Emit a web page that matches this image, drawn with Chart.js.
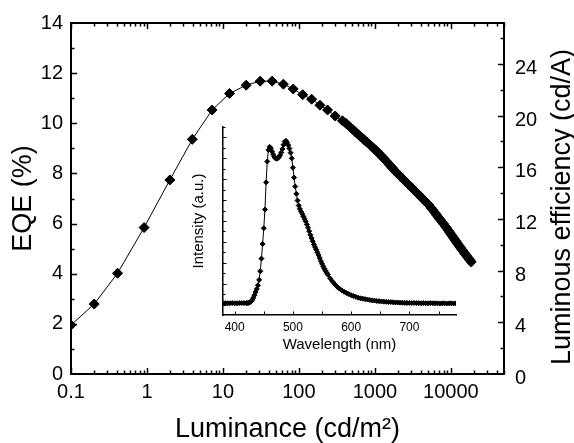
<!DOCTYPE html>
<html><head><meta charset="utf-8">
<script src="https://cdn.jsdelivr.net/npm/chart.js@4.4.1/dist/chart.umd.min.js"></script>
<style>
html,body{margin:0;padding:0;background:#fff;}
#wrap{position:relative;width:574px;height:443px;}
canvas{position:absolute;left:0;top:0;}
</style></head><body>
<div id="wrap"><canvas id="main" width="574" height="443"></canvas><canvas id="inset" width="574" height="443"></canvas></div>
<script>
// ---- main plot data: EQE (%) vs luminance (cd/m2) ----
const luminance = [0.1, 0.202, 0.41, 0.916, 2.0, 3.95, 7.2, 12.2, 20.2, 30.9, 44.4, 62.4, 84, 112, 147, 189, 238, 300, 374,
  415, 460, 505, 550, 595, 640, 690, 740, 795, 850, 910, 970, 1035, 1100, 1170, 1240, 1315, 1390, 1470, 1550, 1635,
  1720, 1810, 1900, 1995, 2090, 2290, 2500, 2720, 2950, 3190, 3440, 3700,
  3970, 4250, 4540, 4840, 5150, 5470, 5800, 6140, 6490, 6850, 7220, 7600, 7990, 8390, 8800, 9220, 9650, 10090,
  10540, 11000, 11470, 11950, 12440, 12940, 13450, 13970, 14500, 15040, 15590, 16150, 16720, 17300, 17890, 18500];
const eqe = [1.95, 2.79, 4.02, 5.84, 7.74, 9.36, 10.53, 11.19, 11.52, 11.68, 11.68, 11.56, 11.37, 11.14, 10.96, 10.72, 10.53, 10.29, 10.1,
  10.0, 9.88, 9.77, 9.66, 9.57, 9.48, 9.40, 9.31, 9.23, 9.15, 9.07, 8.99, 8.91, 8.84, 8.75, 8.67, 8.59, 8.51, 8.43, 8.35, 8.27,
  8.20, 8.12, 8.05, 7.99, 7.93, 7.81, 7.69, 7.58, 7.48, 7.37, 7.27, 7.18,
  7.08, 6.99, 6.90, 6.82, 6.74, 6.63, 6.54, 6.44, 6.34, 6.25, 6.16, 6.07, 5.99, 5.90, 5.82, 5.73, 5.65, 5.56,
  5.48, 5.40, 5.32, 5.25, 5.17, 5.10, 5.03, 4.96, 4.90, 4.83, 4.77, 4.71, 4.65, 4.59, 4.53, 4.47];
const luminanceTicks = [0.1, 1, 10, 100, 1000, 10000];
const eqeTicks = [0, 2, 4, 6, 8, 10, 12, 14];
const efficiencyTicks = [0, 4, 8, 12, 16, 20, 24];

// ---- inset data: EL spectrum ----
const wavelength = [380,384,388,392,396,400,404,408,412,416,
  420,422,424,426,428,430,432,434,436,438,440,442,444,446,448,450,452,454,456,458,
  460,462,464,466,468,470,472,474,476,478,480,482,484,486,488,490,492,494,496,498,
  500,502,504,506,508,510,512,514,516,518,520,522,524,526,528,530,532,534,536,538,
  540,542,544,546,548,550,552,554,556,558,560,
  564,568,572,576,580,584,588,592,596,600,604,608,612,616,620,624,628,632,636,640,
  644,648,652,656,660,664,668,672,676,680,684,688,692,696,700,704,708,712,716,720,
  724,728,732,736,740,744,748,752,756,760,764,768,772,776,780];
const intensity = [0.06,0.07,0.06,0.06,0.07,0.06,0.06,0.07,0.07,0.07,
  0.07,0.07,0.08,0.10,0.14,0.22,0.32,0.45,0.60,0.75,0.92,1.18,1.60,2.20,2.90,3.65,4.55,5.85,6.85,7.40,
  7.55,7.48,7.34,7.20,7.08,7.00,6.98,7.00,7.06,7.15,7.28,7.45,7.65,7.80,7.84,7.76,7.63,7.47,7.27,7.00,
  6.55,6.08,5.65,5.30,4.98,4.74,4.58,4.45,4.34,4.22,4.10,3.98,3.83,3.68,3.51,3.34,3.18,3.03,2.88,2.75,
  2.63,2.50,2.37,2.23,2.08,1.95,1.83,1.72,1.62,1.52,1.43,
  1.25,1.10,0.97,0.85,0.76,0.68,0.61,0.55,0.50,0.45,0.41,0.37,0.33,0.30,0.28,0.26,0.24,0.22,0.20,0.19,
  0.17,0.16,0.15,0.14,0.13,0.12,0.12,0.11,0.10,0.10,0.09,0.09,0.08,0.08,0.08,0.07,0.08,0.07,0.07,0.06,
  0.07,0.06,0.06,0.07,0.06,0.06,0.06,0.05,0.06,0.06,0.05,0.06,0.06,0.05,0.06];
const wavelengthTicks = [400, 500, 600, 700];

const FAMILY = "'Liberation Sans', Arial, Helvetica, sans-serif";
Chart.defaults.font.family = FAMILY;
Chart.defaults.color = '#000';

function tickLine(ctx, x1, y1, x2, y2) {
  ctx.beginPath(); ctx.moveTo(x1, y1); ctx.lineTo(x2, y2); ctx.stroke();
}

const mainFrame = {
  id: 'mainFrame',
  afterDraw(chart) {
    const {ctx, chartArea: {left, right, top, bottom}, scales: {x, y, y2}} = chart;
    ctx.save();
    ctx.strokeStyle = '#000';
    ctx.lineWidth = 2;
    tickLine(ctx, left - 1, top, right + 1, top);
    ctx.lineWidth = 1.5;
    // log x ticks, top and bottom, pointing inward
    for (let d = 0.1; d < 50000; d *= 10) {
      for (let k = 1; k <= 9; k++) {
        const v = d * k;
        if (v > 50000) break;
        const px = Math.round(x.getPixelForValue(v)) + 0.5;
        const len = k === 1 ? 6 : 3.5;
        tickLine(ctx, px, bottom, px, bottom - len);
        tickLine(ctx, px, top, px, top + len);
      }
    }
    // left EQE ticks
    for (let v = 1; v < 14; v++) {
      const py = Math.round(y.getPixelForValue(v)) + 0.5;
      tickLine(ctx, left, py, left + (v % 2 === 0 ? 6 : 3.5), py);
    }
    // right luminous efficiency ticks
    for (let v = 2; v <= 26; v += 2) {
      const py = Math.round(y2.getPixelForValue(v)) + 0.5;
      tickLine(ctx, right, py, right - (v % 4 === 0 ? 6 : 3.5), py);
    }
    // right axis title (reads bottom to top)
    ctx.fillStyle = '#000';
    ctx.font = '27px ' + FAMILY;
    ctx.textAlign = 'center';
    ctx.textBaseline = 'alphabetic';
    ctx.translate(570, 207);
    ctx.rotate(-Math.PI / 2);
    ctx.fillText('Luminous efficiency (cd/A)', 0, 0);
    ctx.restore();
  }
};

new Chart(document.getElementById('main'), {
  type: 'scatter',
  data: {
    datasets: [{
      data: luminance.map((v, i) => ({x: v, y: eqe[i]})),
      showLine: true,
      borderColor: '#000',
      borderWidth: 1,
      pointStyle: 'rectRot',
      pointRadius: 5,
      pointBackgroundColor: '#000',
      pointBorderColor: '#000',
      pointBorderWidth: 1,
      xAxisID: 'x', yAxisID: 'y'
    }]
  },
  options: {
    responsive: false, animation: false, events: [],
    layout: {padding: {top: 23, left: 0, right: 0, bottom: 0}},
    plugins: {legend: {display: false}, tooltip: {enabled: false}},
    scales: {
      x: {
        type: 'logarithmic', position: 'bottom', min: 0.1, max: 50000,
        afterFit(s) { s.height = 69; },
        afterBuildTicks(s) { s.ticks = luminanceTicks.map(v => ({value: v})); },
        ticks: {callback: v => String(v), font: {size: 20}, padding: 6, maxRotation: 0, autoSkip: false, color: '#000'},
        grid: {display: false, drawTicks: false},
        border: {display: true, color: '#000', width: 2},
        title: {display: true, text: 'Luminance (cd/m²)', color: '#000', font: {size: 27, lineHeight: 1}, padding: {top: 0, bottom: 0}}
      },
      y: {
        position: 'left', min: 0, max: 14,
        afterFit(s) { s.width = 71; },
        afterBuildTicks(s) { s.ticks = eqeTicks.map(v => ({value: v})); },
        ticks: {font: {size: 20}, padding: 8, color: '#000'},
        grid: {display: false, drawTicks: false},
        border: {display: true, color: '#000', width: 2},
        title: {display: true, text: 'EQE (%)', color: '#000', font: {size: 27, lineHeight: 1}, padding: {top: 10, bottom: 0}}
      },
      y2: {
        position: 'right', min: 0, max: 27.17,
        afterFit(s) { s.width = 70; },
        afterBuildTicks(s) { s.ticks = efficiencyTicks.map(v => ({value: v})); },
        ticks: {font: {size: 20}, padding: 11, labelOffset: 4.5, color: '#000'},
        grid: {display: false, drawTicks: false},
        border: {display: true, color: '#000', width: 2}
      }
    }
  },
  plugins: [mainFrame]
});

const insetFrame = {
  id: 'insetFrame',
  afterDraw(chart) {
    const {ctx, chartArea: {left, bottom}, scales: {x, y}} = chart;
    ctx.save();
    ctx.strokeStyle = '#000';
    ctx.lineWidth = 1;
    for (let v = 400; v <= 750; v += 50) {
      const px = Math.round(x.getPixelForValue(v)) + 0.5;
      tickLine(ctx, px, bottom, px, bottom - 3.5);
    }
    for (let v = 0; v <= 17; v++) {
      const val = v * 0.5;
      const py = Math.round(y.getPixelForValue(val)) + 0.5;
      tickLine(ctx, left, py, left + (v % 2 === 0 ? 3.5 : 2.5), py);
    }
    ctx.restore();
  }
};

new Chart(document.getElementById('inset'), {
  type: 'scatter',
  data: {
    datasets: [{
      data: wavelength.map((v, i) => ({x: v, y: intensity[i]})),
      showLine: true,
      borderColor: '#000',
      borderWidth: 1,
      pointStyle: 'rectRot',
      pointRadius: 2.5,
      pointBackgroundColor: '#000',
      pointBorderColor: '#000',
      pointBorderWidth: 1
    }]
  },
  options: {
    responsive: false, animation: false, events: [],
    layout: {padding: {top: 127, left: 0, right: 118, bottom: 0}},
    plugins: {legend: {display: false}, tooltip: {enabled: false}},
    scales: {
      x: {
        type: 'linear', position: 'bottom', min: 380, max: 780,
        afterFit(s) { s.height = 128; },
        afterBuildTicks(s) { s.ticks = wavelengthTicks.map(v => ({value: v})); },
        ticks: {font: {size: 12}, padding: 5, maxRotation: 0, autoSkip: false, color: '#000'},
        grid: {display: false, drawTicks: false},
        border: {display: true, color: '#000', width: 1.5},
        title: {display: true, text: 'Wavelength (nm)', color: '#000', font: {size: 15, lineHeight: 1}, padding: {top: 0, bottom: 90.5}}
      },
      y: {
        position: 'left', min: -0.5, max: 8.5,
        afterFit(s) { s.width = 223; },
        ticks: {display: false},
        grid: {display: false, drawTicks: false},
        border: {display: true, color: '#000', width: 1.5},
        title: {display: true, text: 'Intensity (a.u.)', color: '#000', font: {size: 15, lineHeight: 1}, padding: {top: 191.5, bottom: 0}}
      }
    }
  },
  plugins: [insetFrame]
});
</script>
</body></html>
